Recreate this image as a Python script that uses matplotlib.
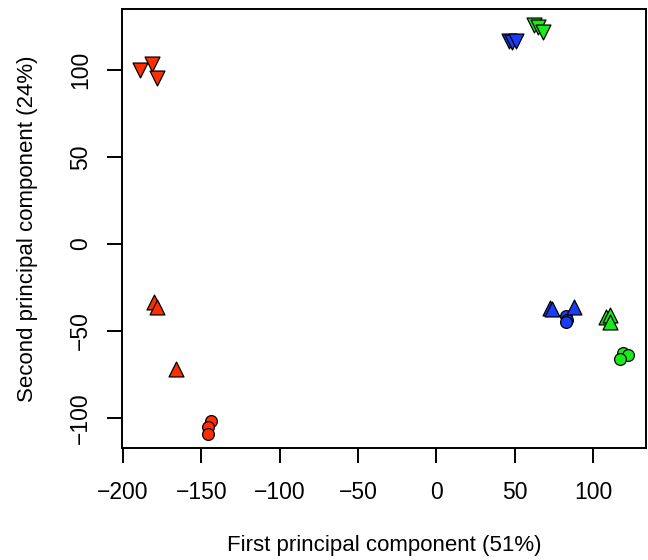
import matplotlib
matplotlib.use("Agg")
import matplotlib.pyplot as plt

plt.rcParams['font.family'] = ['Liberation Sans', 'DejaVu Sans']

# PCA scores (3 groups x 3 conditions x 3 replicates)
red_circle_x = [-144, -145.5, -145.5]
red_circle_y = [-101.5, -105.5, -109]
red_up_x = [-180.5, -178, -166]
red_up_y = [-33.6, -36.1, -72]
red_down_x = [-189, -181.5, -178.5]
red_down_y = [100.2, 103.3, 95.6]

blue_circle_x = [82.8, 83, 82.8]
blue_circle_y = [-41.6, -43.5, -44.8]
blue_up_x = [72.5, 74, 87.8]
blue_up_y = [-37, -37.4, -36]
blue_down_x = [46.3, 48, 50.8]
blue_down_y = [116.7, 116.2, 116.7]

green_circle_x = [119.2, 122.3, 117]
green_circle_y = [-62.8, -63.9, -66.3]
green_up_x = [108.1, 110.9, 110.5]
green_up_y = [-41.9, -40.8, -44.8]
green_down_x = [62, 65, 67.9]
green_down_y = [125.7, 124.4, 121.9]

red = '#FF2E00'
blue = '#1A3CF8'
green = '#1AEB1A'

fig = plt.figure(figsize=(6.48, 5.6), dpi=100)
ax = fig.add_axes([122 / 648, 1 - 448 / 560, 524 / 648, 439 / 560])

kw = dict(edgecolors='black', linewidths=0.9, zorder=3)
groups = [
    (red, red_circle_x, red_circle_y, red_up_x, red_up_y, red_down_x, red_down_y),
    (blue, blue_circle_x, blue_circle_y, blue_up_x, blue_up_y, blue_down_x, blue_down_y),
    (green, green_circle_x, green_circle_y, green_up_x, green_up_y, green_down_x, green_down_y),
]
for col, cx, cy, ux, uy, dx, dy in groups:
    ax.scatter(cx, cy, s=72, marker='o', c=col, **kw)
    ax.scatter(ux, uy, s=115, marker='^', c=col, **kw)
    ax.scatter(dx, dy, s=115, marker='v', c=col, **kw)

ax.set_xlim(-200.6, 133.7)
ax.set_ylim(-117.3, 135)
ax.set_xticks([-200, -150, -100, -50, 0, 50, 100])
ax.set_yticks([-100, -50, 0, 50, 100])

for sp in ax.spines.values():
    sp.set_linewidth(1.4)
ax.tick_params(length=10.5, width=1.4, labelsize=16.5, pad=13)
ax.tick_params(axis='y', pad=11)
plt.setp(ax.get_yticklabels(), rotation=90, va='center')

ax.set_xlabel('First principal component (51%)', fontsize=16, va='center')
ax.xaxis.set_label_coords(0.5, -0.223)
ax.set_ylabel('Second principal component (24%)', fontsize=16, va='center')
ax.yaxis.set_label_coords(-0.181, 0.5)

fig.savefig('out.png', dpi=100)
